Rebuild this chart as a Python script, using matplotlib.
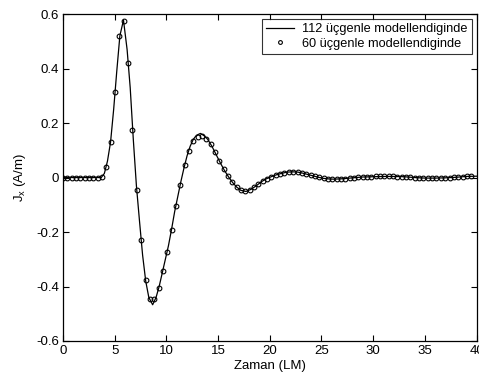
import numpy as np
import matplotlib
matplotlib.use("Agg")
import matplotlib.pyplot as plt

plt.rcParams['font.family'] = ['Liberation Sans', 'DejaVu Sans']

# 112-triangle model (solid line)
t_line = [0, 3.7, 4.0, 4.3, 4.6, 4.9, 5.2, 5.5, 5.85, 6.2, 6.5, 6.8, 7.1, 7.4, 7.7,
          8.0, 8.3, 8.67, 9.0, 9.3, 9.6, 9.9, 10.2, 10.5, 10.8, 11.1, 11.4, 11.7,
          12.0, 12.3, 12.6, 12.9, 13.3, 13.7, 14.0, 14.4, 14.8, 15.2, 15.6, 16.0,
          16.4, 16.8, 17.2, 17.7, 18.2, 18.7, 19.2, 19.7, 20.2, 20.7, 21.2, 21.7,
          22.2, 22.7, 23.2, 23.7, 24.2, 24.7, 25.2, 25.7, 26.2, 26.7, 27.2, 28,
          29, 30, 31, 32, 33, 34, 35, 36, 37, 38, 39, 40]
j_line = [0, 0, 0.015, 0.06, 0.13, 0.25, 0.39, 0.52, 0.578, 0.47, 0.33, 0.14,
          -0.03, -0.16, -0.285, -0.38, -0.44, -0.467, -0.44, -0.40, -0.35, -0.30,
          -0.25, -0.19, -0.125, -0.07, -0.015, 0.035, 0.08, 0.115, 0.14, 0.155,
          0.162, 0.152, 0.14, 0.115, 0.085, 0.055, 0.027, 0.003, -0.018, -0.035,
          -0.047, -0.051, -0.043, -0.03, -0.015, -0.004, 0.004, 0.011, 0.016,
          0.020, 0.021, 0.020, 0.016, 0.011, 0.006, 0.001, -0.003, -0.005, -0.006,
          -0.005, -0.004, -0.001, 0.002, 0.003, 0.004, 0.004, 0.003, 0.0, -0.002,
          -0.002, -0.001, 0.001, 0.004, 0.005]

# 60-triangle model (circles), sampled every 0.42 time units
j_circ = [0, 0, 0, 0, 0, 0, 0, 0, 0, 0.003,
          0.040, 0.130, 0.314, 0.520, 0.575, 0.421, 0.176, -0.044, -0.229, -0.375,
          -0.447, -0.447, -0.407, -0.342, -0.272, -0.193, -0.103, -0.026, 0.045, 0.097,
          0.134, 0.150, 0.152, 0.142, 0.122, 0.092, 0.062, 0.030, 0.005, -0.017,
          -0.035, -0.047, -0.050, -0.045, -0.035, -0.022, -0.012, -0.004, 0.003, 0.009,
          0.014, 0.018, 0.020, 0.021, 0.020, 0.017, 0.013, 0.009, 0.005, 0.001,
          -0.003, -0.005, -0.006, -0.006, -0.005, -0.004, -0.002, 0.000, 0.001, 0.002,
          0.003, 0.003, 0.004, 0.004, 0.004, 0.004, 0.004, 0.003, 0.003, 0.002,
          0.001, 0.000, -0.001, -0.001, -0.002, -0.002, -0.002, -0.001, -0.001, 0.000,
          0.001, 0.002, 0.003, 0.004, 0.004]
t_circ = np.arange(len(j_circ)) * 0.42

labels = ["112 üçgenle modellendiginde", "60 üçgenle modellendiginde"]

fig = plt.figure(figsize=(4.79, 3.81), dpi=100)
ax = fig.add_axes([0.1315, 0.105, 0.995 - 0.1315, 0.963 - 0.105])

ax.plot(t_line, j_line, color='black', linewidth=0.9, label=labels[0])
ax.plot(t_circ, j_circ, linestyle='none', marker='o', markersize=3.4,
        markerfacecolor='none', markeredgecolor='black', markeredgewidth=0.8,
        label=labels[1])

ax.set_xlim(0, 40)
ax.set_ylim(-0.6, 0.6)
ax.set_xticks([0, 5, 10, 15, 20, 25, 30, 35, 40])
ax.set_yticks([-0.6, -0.4, -0.2, 0, 0.2, 0.4, 0.6])
ax.set_yticklabels(['-0.6', '-0.4', '-0.2', '0', '0.2', '0.4', '0.6'])
ax.tick_params(direction='in', top=True, right=True, length=4, width=0.8,
               labelsize=9.5, pad=3)
for s in ax.spines.values():
    s.set_linewidth(0.9)

ax.set_xlabel('Zaman (LM)', fontsize=9.5, labelpad=2)
ax.set_ylabel(r'J$_\mathregular{x}$ (A/m)', fontsize=9.5, labelpad=6)

leg = ax.legend(loc='upper right', fontsize=9.2, frameon=True, fancybox=False,
                edgecolor='black', borderaxespad=0.35, handlelength=2.2,
                handletextpad=0.6, borderpad=0.35, labelspacing=0.2, markerscale=0.8)
leg.get_frame().set_linewidth(0.8)

fig.savefig('out.png', dpi=100)
